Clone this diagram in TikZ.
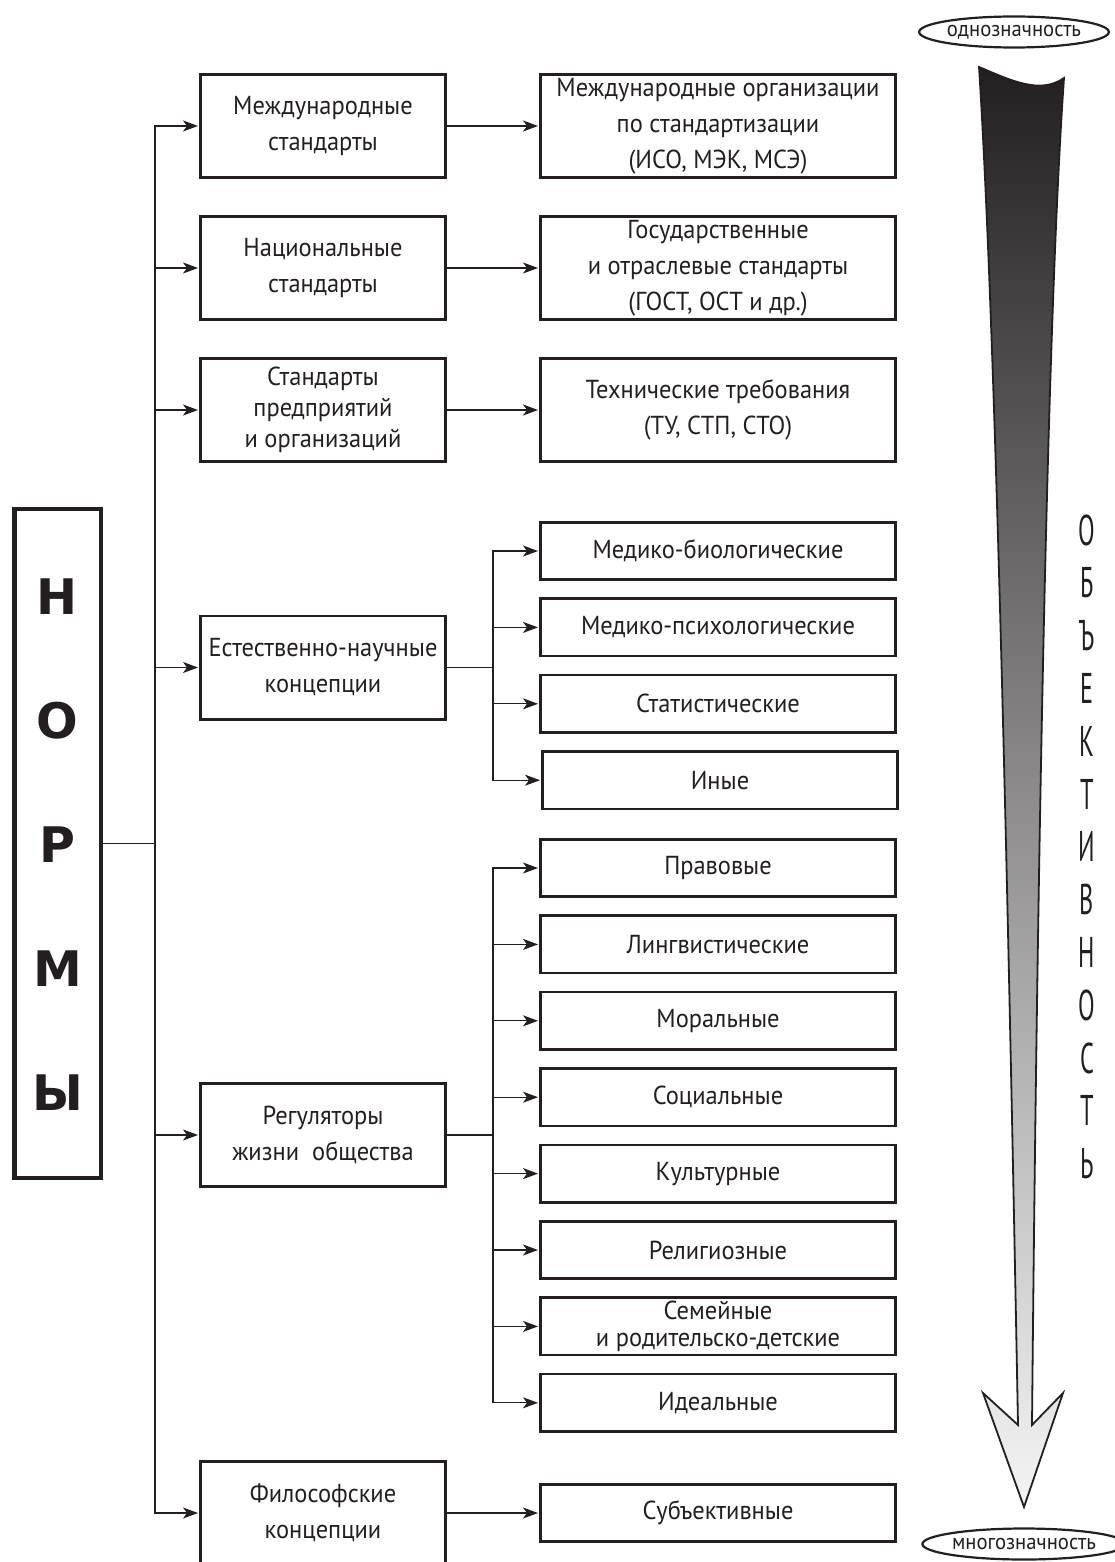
\documentclass[tikz,border=0pt]{standalone}
\usepackage{fontspec}
\setmainfont[FakeStretch=0.94]{PT Sans}
\newfontfamily\heavyfont{DejaVu Sans}
\usetikzlibrary{shapes.geometric,arrows.meta}

\definecolor{ink}{HTML}{231F20}

\begin{document}
\begin{tikzpicture}[x=1pt,y=-1pt,node distance=76.4pt,
  catbox/.style={rectangle, draw=ink, line width=2.6pt, minimum width=245.4pt, minimum height=103.4pt, align=center, inner sep=0pt, text=ink, font=\fontsize{26}{36}\selectfont},
  groupbox/.style={rectangle, draw=ink, line width=2.6pt, minimum width=355.4pt, minimum height=103.4pt, align=center, inner sep=0pt, text=ink, font=\fontsize{26}{36}\selectfont},
  kindbox/.style={groupbox, minimum height=57.4pt},
  normbox/.style={rectangle, draw=ink, line width=4.5pt, minimum width=86.5pt, minimum height=669pt},
  normletter/.style={inner sep=0pt, text=ink, font=\heavyfont\bfseries\fontsize{49}{49}\selectfont},
  objletter/.style={inner sep=0pt, text=ink, font=\fontsize{43}{43}\selectfont},
  pole/.style={ellipse, draw=ink, line width=2.2pt, minimum width=178pt, minimum height=31pt, inner sep=0pt, text=ink, font=\fontsize{22}{22}\selectfont},
  arr/.style={draw=ink, line width=1.2pt, -{Stealth[length=15pt, width=11pt, inset=4pt]}, shorten >=1pt},
  link/.style={draw=ink, line width=1.2pt}]
\useasboundingbox (0,0) rectangle (1114,1562);

% norms column
\node[normbox] (norms) at (57.5,843.5) {};
\foreach \l [count=\i] in {Н,О,Р,М,Ы}
  \node[normletter] (norm\i) at (57.5,472.5+124*\i) {\l};

% kinds of norms
\node[catbox] (intl) at (323,126) {Международные\\стандарты};
\node[catbox] (nat) at (323,268) {Национальные\\стандарты};
\node[catbox] (corp) at (323,410) {Стандарты\\[-5pt]предприятий\\[-5pt]и организаций};
\node[catbox] (sci) at (323,667.5) {Естественно-научные\\концепции};
\node[catbox] (reg) at (323,1135) {Регуляторы\\жизни\ \ общества};
\node[catbox] (phil) at (323,1513) {Философские\\концепции};

\node[groupbox, right of=intl, xshift=318.6pt] (intlorg) {Международные организации\\по стандартизации\\(ИСО, МЭК, МСЭ)};
\node[groupbox, right of=nat, xshift=318.6pt] (natorg) {Государственные\\и отраслевые стандарты\\(ГОСТ, ОСТ и др.)};
\node[groupbox, right of=corp, xshift=318.6pt] (techreq) {Технические требования\\(ТУ, СТП, СТО)};
\node[kindbox, right of=phil, xshift=318.6pt] (subj) {Субъективные};

\node[kindbox] (medbio) at (718,551) {Медико-биологические};
\node[kindbox, below of=medbio] (medpsy) {Медико-психологические};
\node[kindbox, below of=medpsy] (stat) {Статистические};
\node[kindbox, below of=stat, xshift=2pt] (other) {Иные};

\node[kindbox] (law) at (718,868) {Правовые};
\node[kindbox, below of=law] (ling) {Лингвистические};
\node[kindbox, below of=ling] (moral) {Моральные};
\node[kindbox, below of=moral] (social) {Социальные};
\node[kindbox, below of=social] (cult) {Культурные};
\node[kindbox, below of=cult] (relig) {Религиозные};
\node[kindbox, below of=relig] (family) {Семейные\\[-9pt]и родительско-детские};
\node[kindbox, below of=family] (ideal) {Идеальные};

% connectors
\coordinate (jn) at (155,843.5);
\draw[link] (norms) -- (jn);
\foreach \n in {intl,nat,corp,sci,reg,phil}
  \draw[arr] (jn) |- (\n.west);
\draw[arr] (intl) -- (intlorg);
\draw[arr] (nat) -- (natorg);
\draw[arr] (corp) -- (techreq);
\draw[arr] (phil) -- (subj);

\coordinate (scijn) at (493,667.5);
\draw[link] (sci) -- (scijn);
\foreach \n in {medbio,medpsy,stat,other}
  \draw[arr] (scijn) |- (\n.west);

\coordinate (regjn) at (493,1135);
\draw[link] (reg) -- (regjn);
\foreach \n in {law,ling,moral,social,cult,relig,family,ideal}
  \draw[arr] (regjn) |- (\n.west);

% objectivity scale
\draw[line width=1.8pt, draw=ink, top color=ink, middle color=black!80, bottom color=black!4]
  (979,67) .. controls (1010,80) and (1040,95) .. (1064,78)
  .. controls (1045,350) and (1036,1000) .. (1032,1425)
  -- (1063,1393) -- (1024,1507) -- (983,1393) -- (1018,1425)
  .. controls (1010,1000) and (997,350) .. cycle;
\node[pole] (top) at (1014,32) {однозначность};
\node[pole] (bottom) at (1024,1544) {многозначность};
\foreach \l [count=\i] in {О,Б,Ъ,Е,К,Т,И,В,Н,О,С,Т,Ь}
  \node[objletter] (obj\i) at (1087,477.2+52.8*\i) {\scalebox{0.6}[1]{\l}};
\end{tikzpicture}
\end{document}
